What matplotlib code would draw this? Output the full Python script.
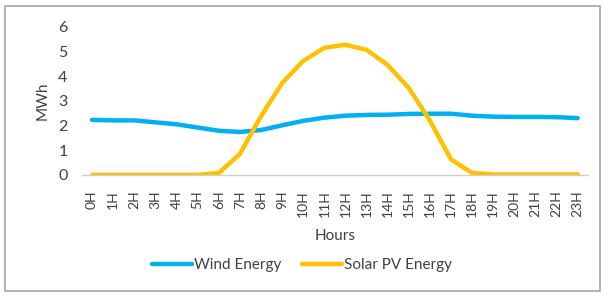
import matplotlib.pyplot as plt
from matplotlib.patches import Rectangle

plt.rcParams["font.family"] = ["Lato", "DejaVu Sans"]

HOURS = [f"{h}H" for h in range(24)]
WIND = [2.23, 2.21, 2.21, 2.13, 2.05, 1.92, 1.79, 1.74, 1.82, 2.01, 2.19, 2.32,
        2.40, 2.43, 2.44, 2.47, 2.48, 2.48, 2.40, 2.36, 2.35, 2.35, 2.34, 2.30]
SOLAR = [0.0, 0.0, 0.0, 0.0, 0.0, 0.0, 0.08, 0.85, 2.38, 3.72, 4.62, 5.15,
         5.27, 5.07, 4.45, 3.52, 2.2, 0.63, 0.08, 0.02, 0.02, 0.02, 0.02, 0.02]

WIND_COLOUR = "#00B0F0"
SOLAR_COLOUR = "#FFC000"

fig = plt.figure(figsize=(6.04, 2.98), dpi=100)
ax = fig.add_axes([0.135, 0.413, 0.839, 0.497])

x = range(len(HOURS))
ax.plot(x, WIND, color=WIND_COLOUR, lw=3.2, solid_capstyle="round",
        label="Wind Energy")
ax.plot(x, SOLAR, color=SOLAR_COLOUR, lw=3.2, solid_capstyle="round",
        label="Solar PV Energy")

ax.set_xlim(-0.5, 23.5)
ax.set_ylim(0, 6)
ax.set_xticks(list(x))
ax.set_xticklabels(HOURS, rotation=90, fontsize=10, color="#404040")
ax.set_yticks(range(7))
ax.tick_params(axis="y", labelsize=11.5, colors="#404040", length=0, pad=10)
ax.tick_params(axis="x", length=0, pad=11)
for side in ("top", "right", "left"):
    ax.spines[side].set_visible(False)
ax.spines["bottom"].set_color("#D0D0D0")
ax.spines["bottom"].set_linewidth(1.0)

ax.set_ylabel("MWh", fontsize=11, color="#404040", labelpad=6)
ax.set_xlabel("Hours", fontsize=11, color="#404040", labelpad=9)

fig.legend(loc="center", bbox_to_anchor=(0.5, 0.11), ncol=2, frameon=False,
           fontsize=11, handlelength=2.6, handletextpad=0.1, columnspacing=1.4,
           labelcolor="#404040")

fig.patches.append(Rectangle((0.008, 0.025), 0.985, 0.955,
                             transform=fig.transFigure, fill=False,
                             edgecolor="#A6A6A6", lw=1.2))

fig.savefig("out.png", dpi=100)
